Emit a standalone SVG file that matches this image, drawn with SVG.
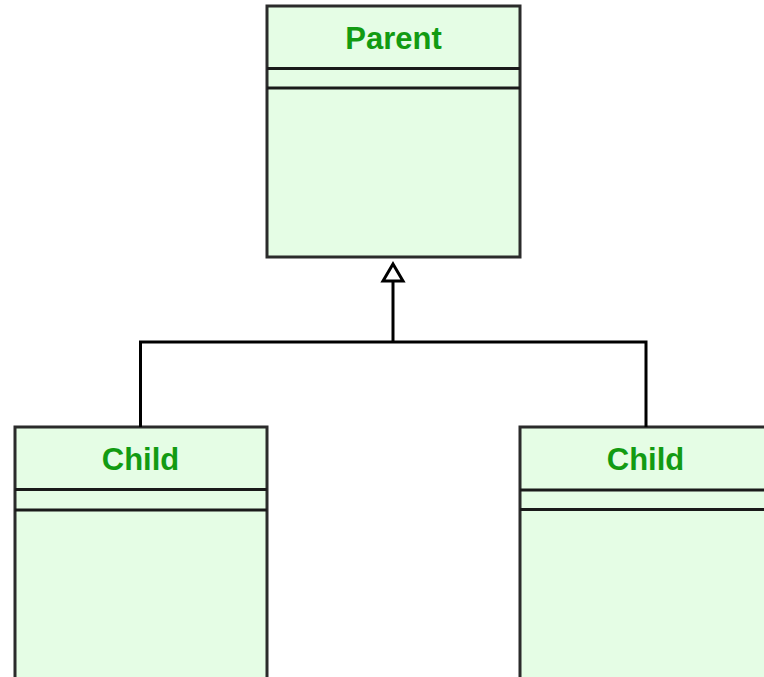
<svg xmlns="http://www.w3.org/2000/svg" width="764" height="677" viewBox="0 0 764 677">
  <style>
    .box { fill: #e5fde5; stroke: #2b2b2b; stroke-width: 3; }
    .sep { stroke: #1a1a1a; stroke-width: 3; }
    .title { font-family: "Liberation Sans", Arial, sans-serif; font-weight: bold; font-size: 31px; fill: #129b12; text-anchor: middle; }
    .conn { fill: none; stroke: #000; stroke-width: 3; }
  </style>
  <rect width="764" height="677" fill="#ffffff"/>
  <g id="parent">
    <rect class="box" x="267" y="6" width="253" height="251"/>
    <line class="sep" x1="267" y1="68.5" x2="520" y2="68.5"/>
    <line class="sep" x1="267" y1="88" x2="520" y2="88"/>
    <text class="title" x="393.5" y="49">Parent</text>
  </g>
  <g id="child-left">
    <rect class="box" x="15" y="427" width="252" height="270"/>
    <line class="sep" x1="15" y1="489.5" x2="267" y2="489.5"/>
    <line class="sep" x1="15" y1="510" x2="267" y2="510"/>
    <text class="title" x="140.5" y="470">Child</text>
  </g>
  <g id="child-right">
    <rect class="box" x="520" y="427" width="270" height="270"/>
    <line class="sep" x1="520" y1="490" x2="790" y2="490"/>
    <line class="sep" x1="520" y1="509.5" x2="790" y2="509.5"/>
    <text class="title" x="645.5" y="470">Child</text>
  </g>
  <g id="connectors">
    <polyline class="conn" points="140.5,427 140.5,342 646,342 646,427"/>
    <line class="conn" x1="393" y1="342" x2="393" y2="280"/>
    <polygon points="393,264 403,281 383,281" fill="#ffffff" stroke="#000" stroke-width="3" stroke-linejoin="miter"/>
  </g>
</svg>
